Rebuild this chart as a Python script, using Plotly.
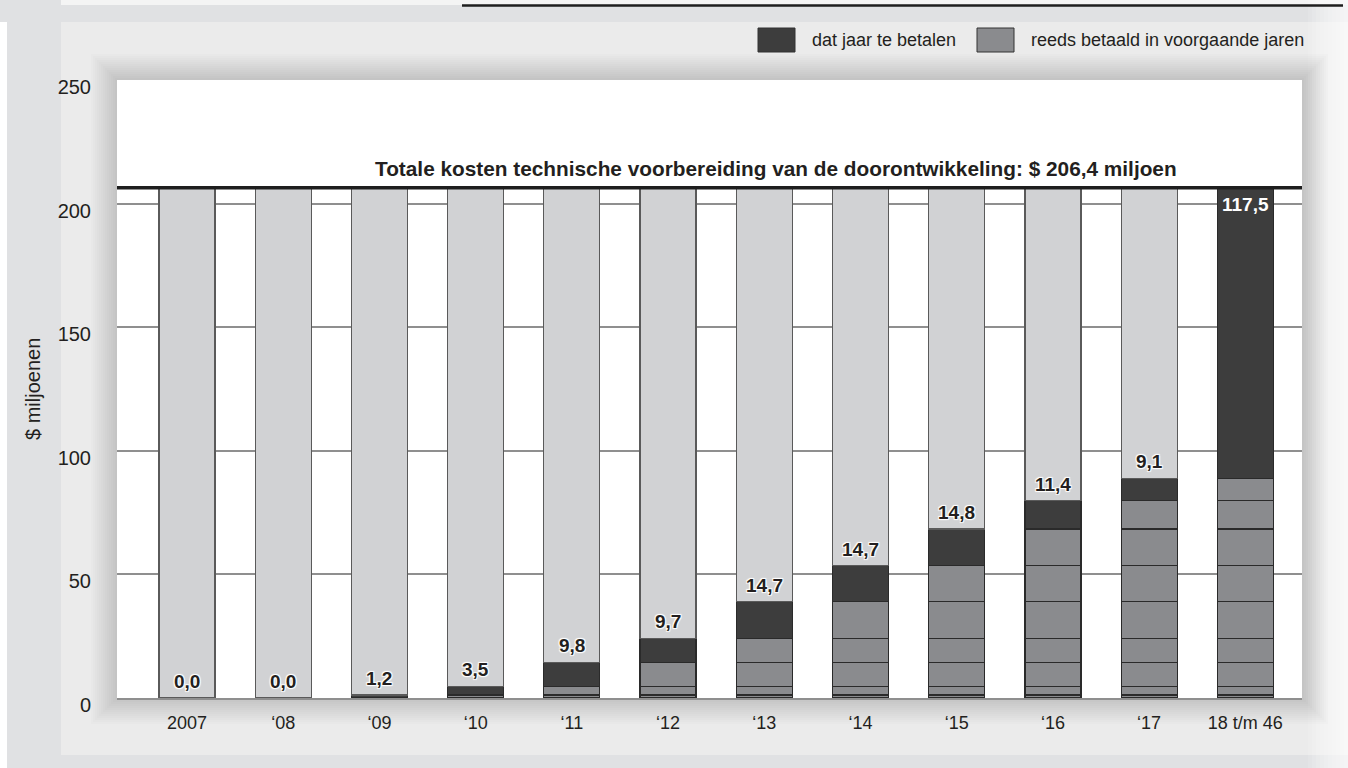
import plotly.graph_objects as go

# Gegevens
jaren = ['2007', '\u201808', '\u201809', '\u201810', '\u201811', '\u201812', '\u201813',
         '\u201814', '\u201815', '\u201816', '\u201817', '18 t/m 46']
te_betalen = [0.0, 0.0, 1.2, 3.5, 9.8, 9.7, 14.7, 14.7, 14.8, 11.4, 9.1, 117.5]
totaal = 206.4
y_ticks = [0, 50, 100, 150, 200, 250]

DONKER = '#3d3d3d'
MIDDEN = '#8a8b8e'
LICHT = '#d1d2d4'
TEKST = '#231f20'
FONT = 'Liberation Sans, Arial, sans-serif'

W, H = 1348, 768
L, R, T, B = 117, 46, 80, 70


def px_x(p):
    """pixel -> paper x"""
    return (p - L) / (W - L - R)


def px_y(p):
    """pixel -> paper y"""
    return (H - B - p) / (H - T - B)


cumulatief = []
s = 0
for v in te_betalen:
    s += v
    cumulatief.append(round(s, 1))

fig = go.Figure()

# Elk jaarbedrag als eigen segment, gestapeld in alle volgende kolommen
for j, v in enumerate(te_betalen):
    fig.add_trace(go.Bar(
        x=jaren,
        y=[v if i >= j else None for i in range(len(jaren))],
        marker=dict(
            color=[DONKER if i == j else MIDDEN for i in range(len(jaren))],
            line=dict(color='#2a2a2a', width=1.2)
        ),
        width=0.582,
        showlegend=False,
        hoverinfo='skip'
    ))

# Rest tot het totaal
rest = [round(totaal - c, 1) for c in cumulatief]
fig.add_trace(go.Bar(
    x=jaren,
    y=[r if r > 0 else None for r in rest],
    marker=dict(color=LICHT, line=dict(color='#5a5a5a', width=1.2)),
    width=0.582,
    showlegend=False,
    hoverinfo='skip'
))

# Labels boven het donkere segment
halo = '1px 1px 1px #fff, -1px -1px 1px #fff, 1px -1px 1px #fff, -1px 1px 1px #fff'
for i, (v, c) in enumerate(zip(te_betalen, cumulatief)):
    tekst = f"{v:.1f}".replace('.', ',')
    if i == len(jaren) - 1:
        fig.add_annotation(x=i, y=c, text=f"<b>{tekst}</b>", showarrow=False,
                           yanchor='top', yshift=-4,
                           font=dict(size=19, color='#ffffff', family=FONT))
    else:
        fig.add_annotation(x=i, y=c, text=f"<b>{tekst}</b>", showarrow=False,
                           yanchor='bottom', yshift=4,
                           font=dict(size=19, color=TEKST, family=FONT, shadow=halo))

# Titel bij totaallijn
fig.add_annotation(x=px_x(776), xref='paper', xanchor='center', y=totaal, yref='y',
                   text="<b>Totale kosten technische voorbereiding van de doorontwikkeling: $ 206,4 miljoen</b>",
                   showarrow=False, yanchor='bottom', yshift=6,
                   font=dict(size=20.8, color=TEKST, family=FONT))

# y-as titel
fig.add_annotation(x=px_x(33), xref='paper', xanchor='center', y=0.5, yref='paper',
                   yanchor='middle', text='$ miljoenen', textangle=-90, showarrow=False,
                   font=dict(size=20, color=TEKST, family=FONT))

# Legenda
legenda = [(758, DONKER, 'dat jaar te betalen'), (977, MIDDEN, 'reeds betaald in voorgaande jaren')]
for x0, kleur, naam in legenda:
    fig.add_shape(type='rect', xref='paper', yref='paper',
                  x0=px_x(x0), x1=px_x(x0 + 37), y0=px_y(52), y1=px_y(28),
                  fillcolor=kleur, line=dict(color='#333333', width=1))
    fig.add_annotation(x=px_x(x0 + 52), xref='paper', y=px_y(40), yref='paper', text=naam,
                       xanchor='left', yanchor='middle', showarrow=False,
                       font=dict(size=18, color=TEKST, family=FONT))

# Achtergrond: buitenrand en schaduw
vormen = [
    dict(x0=0, x1=W, y0=0, y1=22, color='#e0e1e3'),
    dict(x0=0, x1=W, y0=0, y1=5, color='#f4f4f4'),
    dict(x0=0, x1=61, y0=0, y1=H, color='#e0e1e3'),
    dict(x0=0, x1=7, y0=22, y1=H, color='#ffffff'),
    dict(x0=7, x1=W, y0=755, y1=H, color='#e0e1e3'),
]
for v in vormen:
    fig.add_shape(type='rect', xref='paper', yref='paper', layer='below',
                  x0=px_x(v['x0']), x1=px_x(v['x1']), y0=px_y(v['y1']), y1=px_y(v['y0']),
                  fillcolor=v['color'], line=dict(width=0))

# vervaging naar wit rechts
for k in range(10):
    fig.add_shape(type='rect', xref='paper', yref='paper', layer='below',
                  x0=px_x(1308 + k * 4), x1=px_x(W), y0=px_y(H), y1=px_y(0),
                  fillcolor='#ffffff', opacity=0.12, line=dict(width=0))

# zachte schaduw rond het plotvlak
for k in range(14):
    d = 26 - 2 * k
    fig.add_shape(type='rect', xref='paper', yref='paper', layer='below',
                  x0=px_x(L - d), x1=px_x(W - R + d), y0=px_y(H - B + d), y1=px_y(T - d),
                  fillcolor='#000000', opacity=0.012, line=dict(width=0))

fig.add_shape(type='rect', xref='paper', yref='paper', layer='below',
              x0=0, x1=1, y0=0, y1=1, fillcolor='#ffffff', line=dict(width=0))

# zwarte lijn bovenaan
fig.add_shape(type='line', xref='paper', yref='paper', x0=px_x(462), x1=px_x(1343),
              y0=px_y(5.5), y1=px_y(5.5), line=dict(color='#1e1e1e', width=2.5))

# totaallijn
fig.add_shape(type='line', xref='paper', yref='y', x0=0, x1=1, y0=totaal, y1=totaal,
              line=dict(color='#1e1e1e', width=3.5), layer='above')

fig.update_layout(
    width=W, height=H,
    barmode='stack',
    margin=dict(l=L, r=R, t=T, b=B, pad=0),
    paper_bgcolor='#ebebeb',
    plot_bgcolor='rgba(0,0,0,0)',
    font=dict(family=FONT, size=18, color=TEKST),
    showlegend=False,
    xaxis=dict(
        type='category',
        range=[-0.728, 11.589],
        showgrid=False,
        showline=True, linecolor='#8f8f8f', linewidth=2,
        ticks='', ticklabelstandoff=7,
        tickfont=dict(size=18, color=TEKST),
        fixedrange=True
    ),
    yaxis=dict(
        range=[0, 250],
        tickvals=y_ticks,
        showgrid=True, gridcolor='#8f8f8f', gridwidth=2,
        zeroline=False,
        showline=False,
        ticks='', ticklabelstandoff=25, ticklabelshift=7,
        tickfont=dict(size=20, color=TEKST),
        fixedrange=True
    )
)

fig.write_html("out.html", config={'displayModeBar': False},
               post_script="document.body.style.margin='0px';")
